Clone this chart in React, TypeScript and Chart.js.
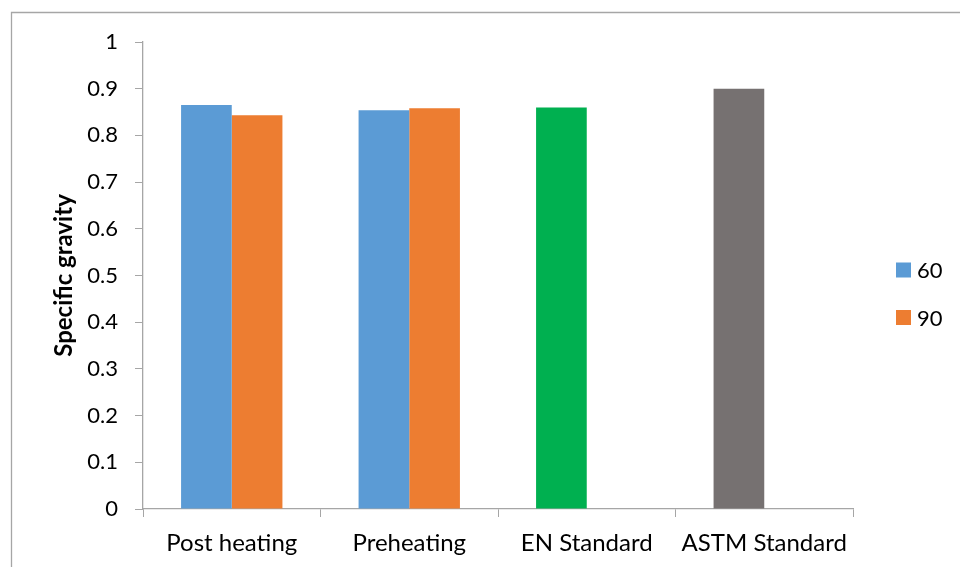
import React, { useEffect, useRef } from "react";
import { Chart, registerables } from "chart.js";

Chart.register(...registerables);

const categories = ["Post heating", "Preheating", "EN Standard", "ASTM Standard"];
const series60 = [0.865, 0.854, 0.86, 0.9];
const series90 = [0.843, 0.858, null, null];
const seriesNames = ["60", "90"];
const colors60 = ["#5B9BD5", "#5B9BD5", "#00B050", "#767171"];
const color90 = "#ED7D31";
const yTicks = [0, 0.1, 0.2, 0.3, 0.4, 0.5, 0.6, 0.7, 0.8, 0.9, 1];

const FONT = "Lato, 'Open Sans', sans-serif";

const framePlugin = {
  id: "frame",
  beforeDraw(chart: any) {
    const ctx = chart.ctx;
    ctx.save();
    ctx.fillStyle = "#ffffff";
    ctx.fillRect(0, 0, chart.width, chart.height);
    ctx.strokeStyle = "#A6A6A6";
    ctx.lineWidth = 1.3;
    ctx.beginPath();
    ctx.moveTo(11.5, chart.height + 2);
    ctx.lineTo(11.5, 12.5);
    ctx.lineTo(chart.width + 2, 12.5);
    ctx.stroke();
    ctx.restore();
  },
};

const legendPlugin = {
  id: "sideLegend",
  afterDraw(chart: any) {
    const ctx = chart.ctx;
    ctx.save();
    ctx.font = "22px " + FONT;
    ctx.textBaseline = "middle";
    ctx.textAlign = "left";
    const items = [
      { label: chart.data.datasets[0].label, color: (chart.data.datasets[0].backgroundColor as string[])[0] },
      { label: chart.data.datasets[1].label, color: chart.data.datasets[1].backgroundColor as string },
    ];
    items.forEach((it, i) => {
      const cy = 270 + i * 47.5;
      ctx.fillStyle = it.color;
      ctx.fillRect(896, cy - 7.5, 15, 15);
      ctx.fillStyle = "#000";
      ctx.fillText(it.label, 917, cy + 1);
    });
    ctx.restore();
  },
};

export default function App() {
  const ref = useRef<HTMLCanvasElement | null>(null);

  useEffect(() => {
    if (!ref.current) return;
    const chart = new Chart(ref.current, {
      type: "bar",
      data: {
        labels: categories,
        datasets: [
          {
            label: seriesNames[0],
            data: series60,
            backgroundColor: colors60,
            categoryPercentage: 0.571,
            barPercentage: 1,
          },
          {
            label: seriesNames[1],
            data: series90 as any,
            backgroundColor: color90,
            categoryPercentage: 0.571,
            barPercentage: 1,
          },
        ],
      },
      options: {
        animation: false,
        responsive: false,
        devicePixelRatio: 1,
        layout: { padding: { top: 42, right: 107, left: 0, bottom: 0 } },
        plugins: {
          legend: { display: false },
          tooltip: { enabled: false },
        },
        scales: {
          x: {
            grid: {
              display: true,
              drawOnChartArea: false,
              drawTicks: true,
              tickLength: 8,
              color: "#A6A6A6",
              offset: true,
            },
            border: { display: true, color: "#A6A6A6", width: 1.3 },
            ticks: {
              color: "#000",
              font: { family: FONT, size: 24 },
              padding: 12,
              maxRotation: 0,
              autoSkip: false,
            },
            afterFit(scale: any) {
              scale.height = 58;
            },
          },
          y: {
            min: 0,
            max: 1,
            afterBuildTicks(scale: any) {
              scale.ticks = yTicks.map((v) => ({ value: v }));
            },
            grid: {
              display: true,
              drawOnChartArea: false,
              drawTicks: true,
              tickLength: 8,
              color: "#A6A6A6",
            },
            border: { display: true, color: "#A6A6A6", width: 1.3 },
            ticks: {
              color: "#000",
              font: { family: FONT, size: 22 },
              padding: 17,
              callback: (v: any) => String(Math.round(Number(v) * 10) / 10),
            },
            title: {
              display: true,
              text: "Specific gravity",
              color: "#000",
              font: { family: FONT, size: 24, weight: "bold" },
              padding: { top: 50, bottom: 0 },
            },
            afterFit(scale: any) {
              scale.width = 143;
            },
          },
        },
      },
      plugins: [framePlugin, legendPlugin],
    });
    return () => chart.destroy();
  }, []);

  return (
    <div style={{ position: "fixed", left: 0, top: 0, width: 960, height: 567, background: "#fff" }}>
      <canvas ref={ref} width={960} height={567} style={{ width: 960, height: 567, display: "block" }} />
    </div>
  );
}
